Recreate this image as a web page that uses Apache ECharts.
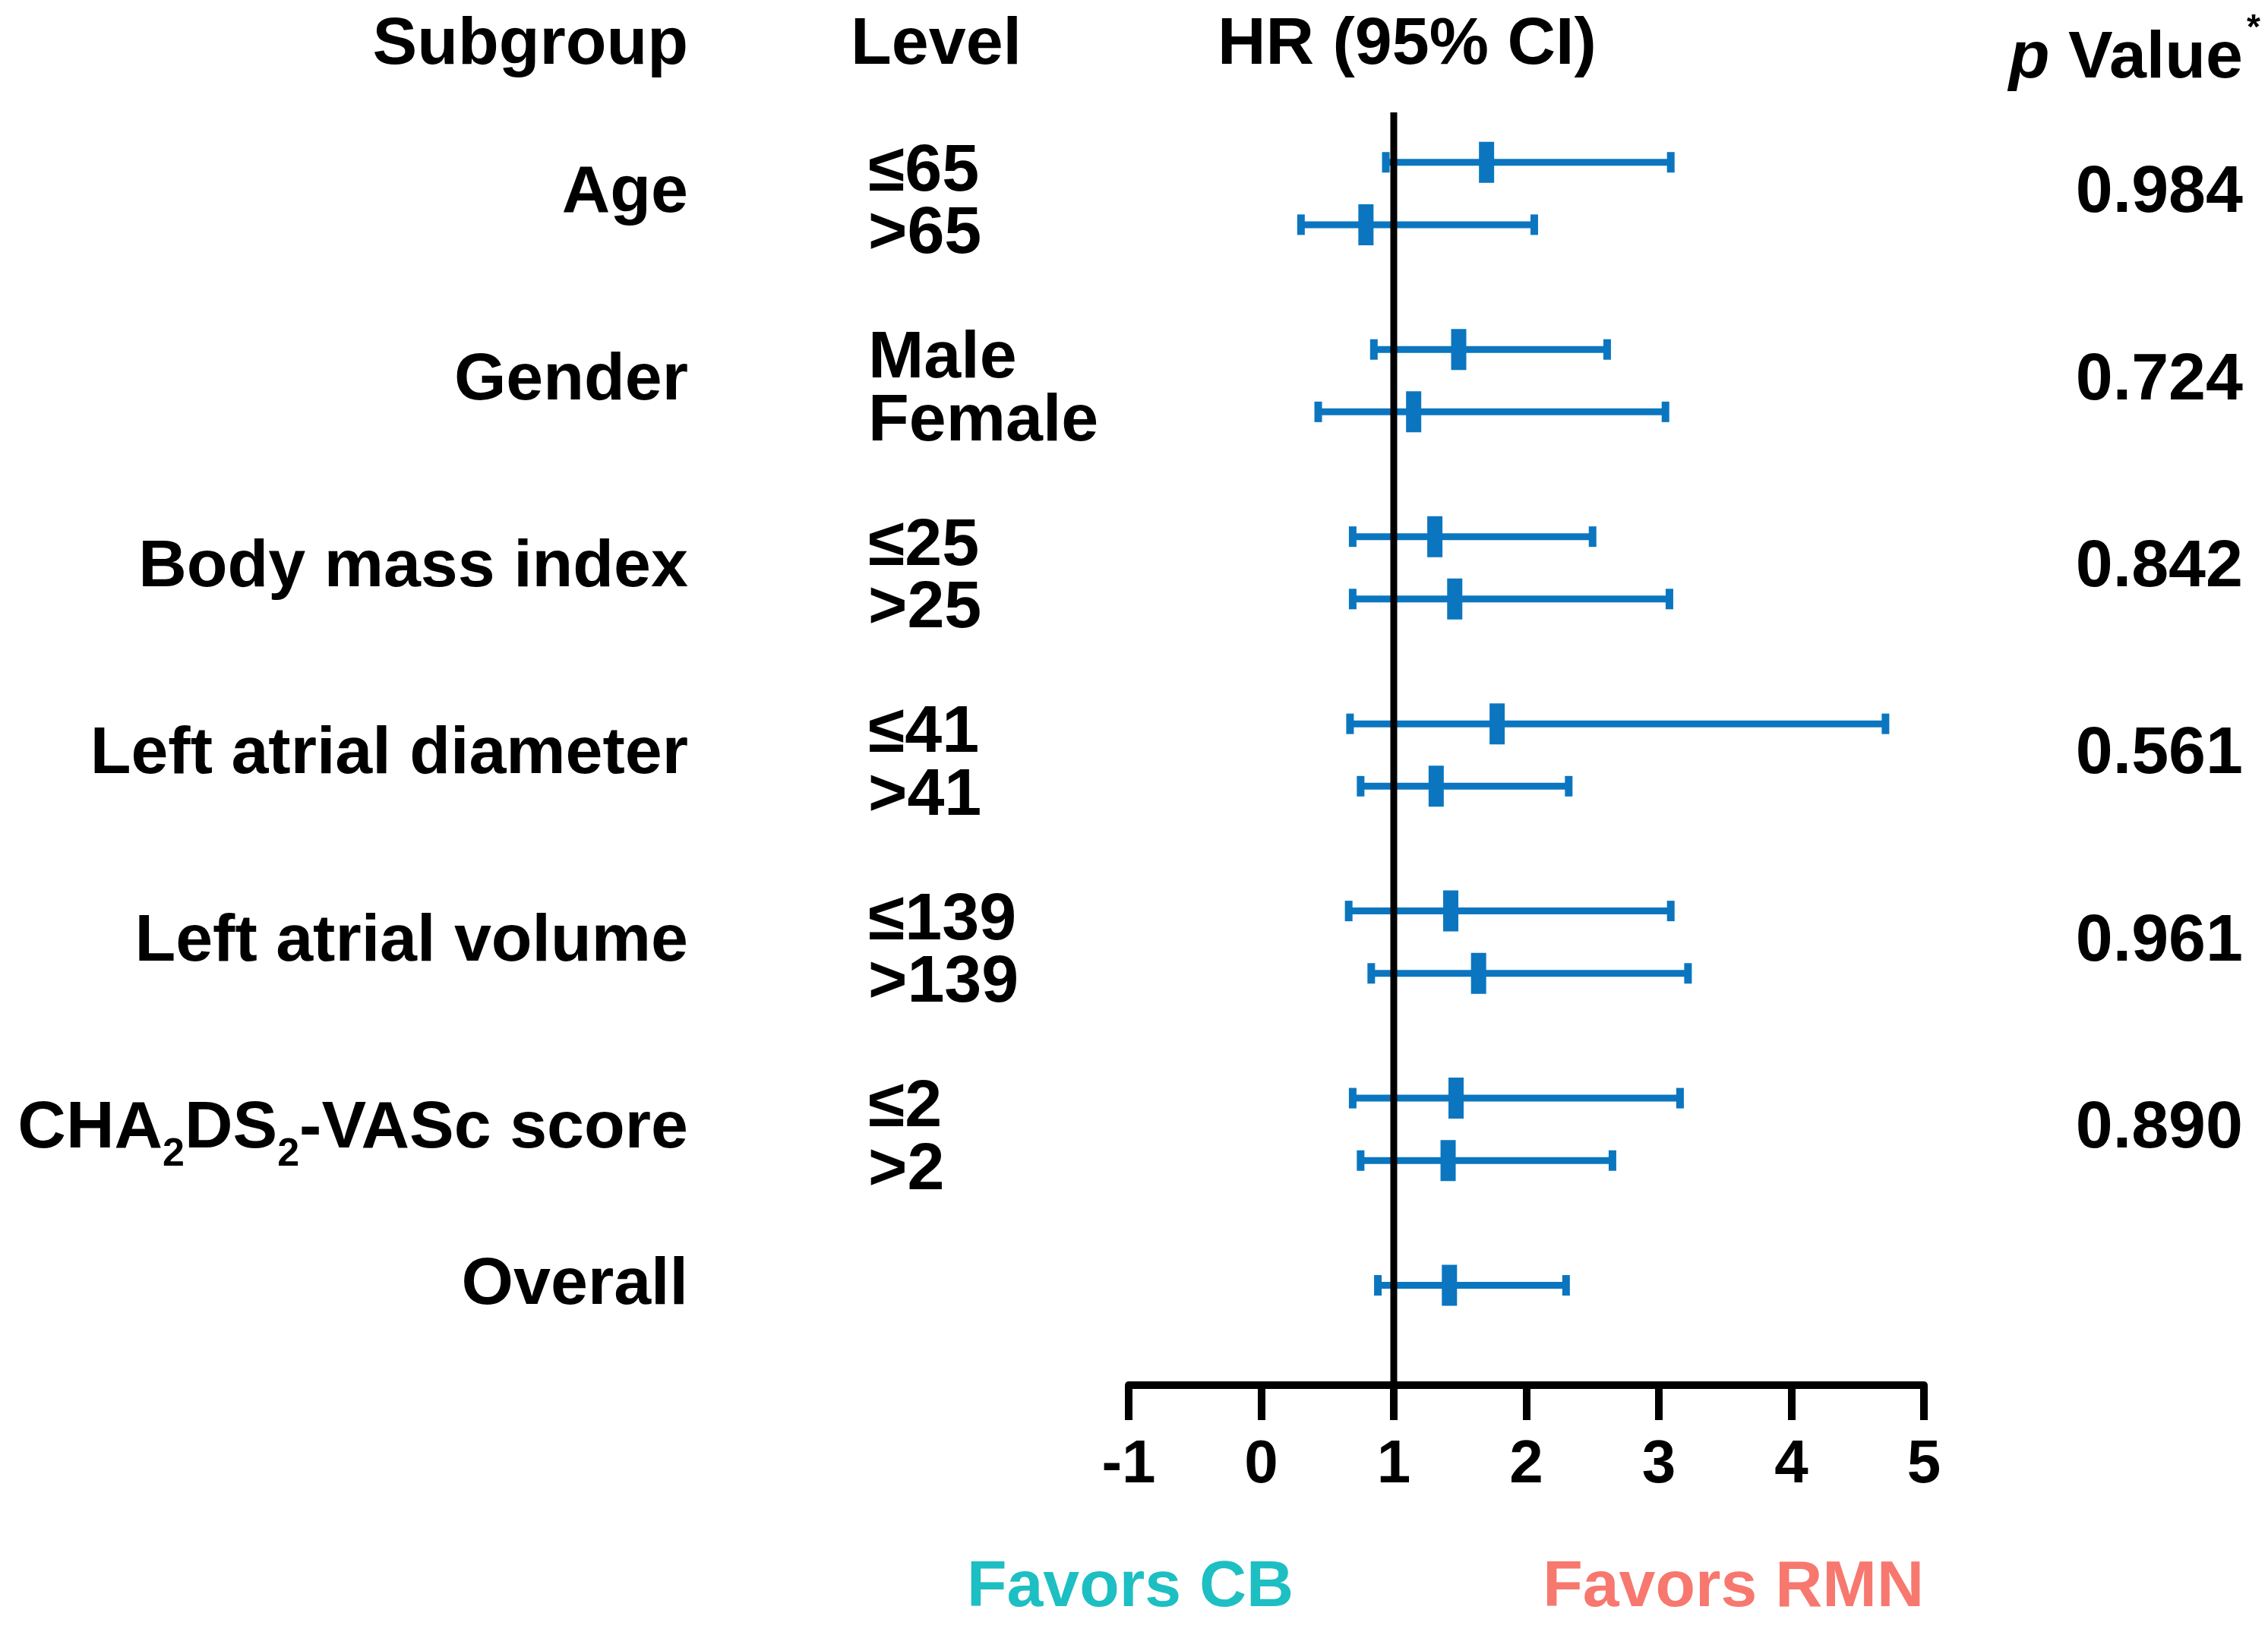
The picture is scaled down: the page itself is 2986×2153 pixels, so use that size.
<!DOCTYPE html>
<html><head><meta charset="utf-8">
<script src="https://cdn.jsdelivr.net/npm/echarts@6/dist/echarts.min.js"></script>
<style>html,body{margin:0;padding:0;background:#fff}#c{width:2986px;height:2153px}</style>
</head><body><div id="c"></div>
<script>
// ---------------- data ----------------
const subgroups = ['Age', 'Gender', 'Body mass index', 'Left atrial diameter', 'Left atrial volume', 'CHA₂DS₂-VASc score', 'Overall'];
const levels = [['≤65', '>65'], ['Male', 'Female'], ['≤25', '>25'], ['≤41', '>41'], ['≤139', '>139'], ['≤2', '>2'], ['']];
const hrValues = [[1.70, 0.79], [1.49, 1.15], [1.31, 1.46], [1.78, 1.32], [1.43, 1.64], [1.47, 1.41], [1.42]];
const ciLower  = [[0.94, 0.30], [0.85, 0.43], [0.69, 0.69], [0.67, 0.75], [0.66, 0.83], [0.69, 0.75], [0.88]];
const ciUpper  = [[3.09, 2.06], [2.61, 3.05], [2.50, 3.08], [4.71, 2.32], [3.09, 3.22], [3.16, 2.65], [2.30]];
const pValues = ['0.984', '0.724', '0.842', '0.561', '0.961', '0.890', ''];
const xTickMin = -1, xTickMax = 5, xTickStep = 1;
const refValue = 1;
const headers = { subgroup: 'Subgroup', level: 'Level', hr: 'HR (95% CI)', p: 'Value' };
const favors = ['Favors CB', 'Favors RMN'];

// ---------------- build ----------------
const FONT = "'Liberation Sans', Arial, Helvetica, sans-serif";
const BLUE = '#0b76bf';
const MAIN_SIZE = 88, SUB_SIZE = 52;
const GROUP_STEP = 3;
const barData = [];
const groupData = [];
subgroups.forEach((g, gi) => {
  const slots = [];
  levels[gi].forEach((lv, j) => {
    const slot = gi * GROUP_STEP + j;
    slots.push(slot);
    barData.push([ciLower[gi][j], hrValues[gi][j], ciUpper[gi][j], slot]);
  });
  groupData.push([gi, slots.reduce((a, b) => a + b, 0) / slots.length]);
});

const mctx = document.createElement('canvas').getContext('2d');
function textWidth(t, size) {
  mctx.font = 'bold ' + size + 'px ' + FONT;
  return mctx.measureText(t).width;
}

// Subgroup label, right-aligned at xr, with "₂" drawn as a real subscript.
function nameElements(name, xr, yc) {
  const parts = name.split(/(₂)/).filter(s => s.length).map(s => s === '₂' ? { t: '2', sub: true } : { t: s, sub: false });
  const total = parts.reduce((a, p) => a + textWidth(p.t, p.sub ? SUB_SIZE : MAIN_SIZE), 0);
  let x = xr - total;
  return parts.map(p => {
    const size = p.sub ? SUB_SIZE : MAIN_SIZE;
    const el = { type: 'text', x: x, y: p.sub ? yc + 33 : yc, style: {
      text: p.t, align: 'left', verticalAlign: 'middle', fontSize: size, fontWeight: 'bold', fontFamily: FONT, fill: '#000' } };
    x += textWidth(p.t, size);
    return el;
  });
}

const chart = echarts.init(document.getElementById('c'), null, { renderer: 'canvas' });
chart.setOption({
  animation: false,
  backgroundColor: '#ffffff',
  grid: { left: 1486, right: 453, top: 148, bottom: 329, containLabel: false, outerBoundsMode: 'none' },
  xAxis: {
    type: 'value', min: xTickMin, max: xTickMax, interval: xTickStep, position: 'bottom',
    axisLine: { show: true, onZero: false, lineStyle: { color: '#000', width: 10 } },
    axisTick: { show: true, inside: false, length: 46, lineStyle: { color: '#000', width: 10 } },
    axisLabel: { fontSize: 80, fontWeight: 'bold', fontFamily: FONT, color: '#000', margin: 66, showMinLabel: true, showMaxLabel: true },
    splitLine: { show: false }
  },
  yAxis: { type: 'value', min: -0.8, max: 19.6, inverse: true, show: false, splitLine: { show: false } },
  series: [
    {
      type: 'custom', name: 'bars', z: 2,
      encode: { x: [0, 1, 2], y: 3 },
      data: barData,
      renderItem: function (params, api) {
        const y = api.coord([refValue, api.value(3)])[1];
        const xl = api.coord([api.value(0), 0])[0];
        const xm = api.coord([api.value(1), 0])[0];
        const xh = api.coord([api.value(2), 0])[0];
        return { type: 'group', children: [
          { type: 'rect', shape: { x: xl, y: y - 4.5, width: xh - xl, height: 9 }, style: { fill: BLUE } },
          { type: 'rect', shape: { x: xl - 5, y: y - 13.5, width: 10, height: 27 }, style: { fill: BLUE } },
          { type: 'rect', shape: { x: xh - 5, y: y - 13.5, width: 10, height: 27 }, style: { fill: BLUE } },
          { type: 'rect', shape: { x: xm - 10, y: y - 27, width: 20, height: 54 }, style: { fill: BLUE } }
        ] };
      }
    },
    {
      type: 'custom', name: 'ref', z: 5,
      data: [[refValue]],
      encode: { x: 0 },
      renderItem: function (params, api) {
        const cs = params.coordSys;
        const x = api.coord([api.value(0), 0])[0];
        return { type: 'rect', shape: { x: x - 4.5, y: cs.y, width: 9, height: cs.height }, style: { fill: '#000' } };
      }
    },
    {
      type: 'custom', name: 'labels', z: 3,
      data: groupData,
      encode: { y: 1 },
      renderItem: function (params, api) {
        const gi = api.value(0);
        const yc = api.coord([refValue, api.value(1)])[1];
        const children = nameElements(subgroups[gi], 906, yc);
        levels[gi].forEach((lv, j) => {
          if (!lv) return;
          const y = api.coord([refValue, gi * GROUP_STEP + j])[1] + 13;
          children.push({ type: 'text', x: 1143, y: y, style: {
            text: lv, align: 'left', verticalAlign: 'middle', fontSize: MAIN_SIZE, fontWeight: 'bold', fontFamily: FONT, fill: '#000' } });
        });
        if (pValues[gi]) {
          children.push({ type: 'text', x: 2953, y: yc, style: {
            text: pValues[gi], align: 'right', verticalAlign: 'middle', fontSize: MAIN_SIZE, fontWeight: 'bold', fontFamily: FONT, fill: '#000' } });
        }
        return { type: 'group', children: children };
      }
    }
  ],
  graphic: [
    { type: 'text', x: 906, y: 60, style: { text: headers.subgroup, align: 'right', verticalAlign: 'middle', fontSize: MAIN_SIZE, fontWeight: 'bold', fontFamily: FONT, fill: '#000' } },
    { type: 'text', x: 1120, y: 60, style: { text: headers.level, align: 'left', verticalAlign: 'middle', fontSize: MAIN_SIZE, fontWeight: 'bold', fontFamily: FONT, fill: '#000' } },
    { type: 'text', x: 1603, y: 60, style: { text: headers.hr, align: 'left', verticalAlign: 'middle', fontSize: MAIN_SIZE, fontWeight: 'bold', fontFamily: FONT, fill: '#000' } },
    { type: 'text', x: 2953, y: 78, style: { text: '{i|p}{b| ' + headers.p + '}', align: 'right', verticalAlign: 'middle',
      rich: { i: { fontSize: MAIN_SIZE, fontWeight: 'bold', fontStyle: 'italic', fontFamily: FONT, fill: '#000' },
              b: { fontSize: MAIN_SIZE, fontWeight: 'bold', fontFamily: FONT, fill: '#000' } } } },
    { type: 'text', x: 2958, y: 38, style: { text: '*', align: 'left', verticalAlign: 'middle', fontSize: 46, fontWeight: 'bold', fontFamily: FONT, fill: '#000' } },
    { type: 'text', x: 1273, y: 2091, style: { text: favors[0], align: 'left', verticalAlign: 'middle', fontSize: 86, fontWeight: 'bold', fontFamily: FONT, fill: '#1dbfc3' } },
    { type: 'text', x: 2533, y: 2091, style: { text: favors[1], align: 'right', verticalAlign: 'middle', fontSize: 86, fontWeight: 'bold', fontFamily: FONT, fill: '#f7786e' } }
  ]
});
</script>
</body></html>
